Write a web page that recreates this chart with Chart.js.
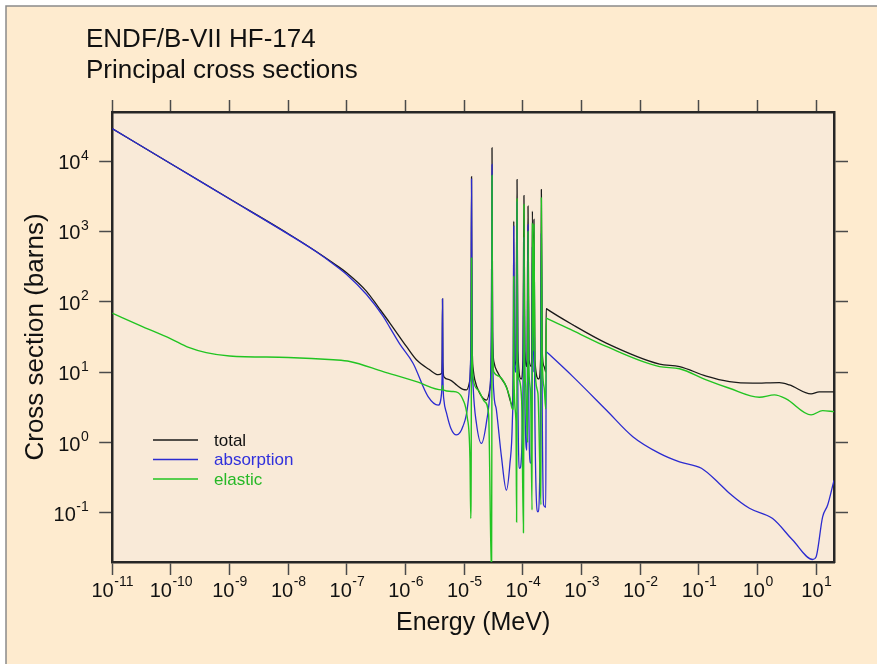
<!DOCTYPE html>
<html>
<head>
<meta charset="utf-8">
<title>ENDF/B-VII HF-174</title>
<script src="https://cdn.jsdelivr.net/npm/chart.js@4.4.1/dist/chart.umd.min.js"></script>
<style>
  html, body { margin:0; padding:0; background:#fff; }
  #plot { display:block; }
</style>
</head>
<body>
<canvas id="plot" width="877" height="664"></canvas>
<script>
// Hf-174 principal cross sections, energy in MeV, cross section in barns
const totalE = [1e-11, 1e-10, 1e-9, 1e-8, 3e-8, 6e-8, 1e-7, 2.16e-7, 3.5e-7, 5.4e-7, 1.04e-6, 1.53e-6, 2.5e-6, 3.6e-6,
  4.1e-6, 4.2e-6, 4.26e-6, 4.32e-6, 4.5e-6, 5.66e-6, 7.5e-6, 9.5e-6, 1.1e-5, 1.24e-5, 1.3e-5, 1.33e-5, 1.36e-5, 1.42e-5,
  1.51e-5, 1.84e-5, 2.39e-5, 2.75e-5, 2.9e-5, 2.97e-5, 3.04e-5, 3.2e-5, 3.76e-5, 5.22e-5, 6.6e-5, 6.85e-5, 6.97e-5,
  7.1e-5, 7.6e-5, 7.93e-5, 8.2e-5, 9.3e-5, 1.0e-4, 1.04e-4, 1.08e-4, 1.17e-4, 1.22e-4, 1.27e-4, 1.4e-4, 1.45e-4, 1.49e-4,
  1.54e-4, 1.6e-4, 1.85e-4, 2.0e-4, 2.06e-4, 2.13e-4, 2.3e-4, 2.45e-4, 2.49e-4, 2.5e-4, 7.1e-4, 2.63e-3, 2.13e-2, 4.66e-2,
  0.133, 0.33, 0.824, 2.34, 3.47, 8.13, 11.2, 20];
const totalXS = [29000, 9200, 2920, 930, 520, 350, 257, 141, 82, 50, 23, 15, 11, 9.2,
  9.6, 16, 110, 14, 8.6, 7.8, 6.5, 5.7, 5.6, 7.5, 25, 6000, 30, 11,
  7.8, 5.0, 4.0, 6, 30, 15500, 40, 14, 9.7, 6.2, 3.4, 8, 1400,
  12, 15, 5480, 20, 8, 15, 3240, 20, 12, 2290, 15, 12, 1940, 40,
  1480, 15, 8, 15, 3950, 20, 12, 10, 80.2, 80, 47, 25.9, 13.0, 12.0,
  8.8, 7.35, 6.97, 7.11, 6.59, 4.91, 5.25, 5.25];

const absE = [1e-11, 1e-10, 1e-9, 1e-8, 3e-8, 6e-8, 1e-7, 2.16e-7, 4.15e-7, 5.4e-7, 7.98e-7, 1.34e-6, 2.42e-6, 3.6e-6,
  4.1e-6, 4.2e-6, 4.26e-6, 4.32e-6, 4.5e-6, 5.0e-6, 5.9e-6, 7.37e-6, 9.5e-6, 1.15e-5, 1.27e-5, 1.31e-5, 1.33e-5, 1.35e-5,
  1.42e-5, 1.61e-5, 1.96e-5, 2.4e-5, 2.75e-5, 2.9e-5, 2.97e-5, 3.04e-5, 3.2e-5, 3.53e-5, 4.3e-5, 5.22e-5, 6.0e-5, 6.6e-5,
  6.85e-5, 6.97e-5, 7.1e-5, 7.6e-5, 7.93e-5, 8.2e-5, 8.81e-5, 1.0e-4, 1.04e-4, 1.08e-4, 1.17e-4, 1.22e-4, 1.26e-4,
  1.34e-4, 1.42e-4, 1.45e-4, 1.49e-4, 1.54e-4, 1.6e-4, 1.8e-4, 1.98e-4, 2.06e-4, 2.13e-4, 2.25e-4, 2.45e-4, 2.49e-4, 2.5e-4,
  7.1e-4, 2.63e-3, 7.46e-3, 2.13e-2, 4.66e-2, 0.11, 0.223, 0.33, 0.724, 1.8, 3.95, 8.65, 9.89, 12.8, 15.6, 20];
const absXS = [29000, 9170, 2900, 917, 515, 340, 243, 127, 62, 43, 25, 13.4, 4.5, 3.4,
  5, 12, 110, 10, 4, 2.6, 1.6, 1.28, 1.7, 3.5, 12, 60, 5600, 50,
  6, 1.88, 0.97, 2, 6, 40, 8970, 30, 5, 2.9, 0.63, 0.21, 0.5, 2,
  15, 1190, 15, 10, 2640, 5, 0.43, 5, 820, 4, 0.78, 1250, 3,
  0.51, 5, 610, 10, 230, 2, 0.103, 2, 940, 3, 0.13, 0.12, 19.66, 19.6,
  8.65, 2.9, 1.21, 0.70, 0.53, 0.43, 0.26, 0.19, 0.116, 0.083, 0.041, 0.0217, 0.0236, 0.0877, 0.129, 0.29];

const elE = [1e-11, 3e-11, 1e-10, 2e-10, 4e-10, 1e-9, 1e-8, 5.85e-8, 1.12e-7, 4.15e-7,
  1.53e-6, 4.2e-6, 4.26e-6, 4.32e-6, 6.44e-6, 9.55e-6, 1.12e-5, 1.25e-5, 1.29e-5, 1.315e-5, 1.33e-5, 1.35e-5, 1.42e-5,
  1.72e-5, 2.23e-5, 2.6e-5, 2.92e-5, 2.95e-5, 2.97e-5, 3.02e-5, 3.2e-5, 4.02e-5, 5.94e-5, 6.6e-5, 6.9e-5, 6.97e-5, 7.05e-5,
  7.6e-5, 7.8e-5, 7.88e-5, 7.93e-5, 8.0e-5, 8.5e-5, 9.5e-5, 1.02e-4, 1.035e-4, 1.04e-4, 1.06e-4, 1.12e-4, 1.2e-4, 1.22e-4,
  1.25e-4, 1.35e-4, 1.43e-4, 1.45e-4, 1.49e-4, 1.54e-4, 1.6e-4, 1.8e-4, 2.03e-4, 2.06e-4, 2.12e-4, 2.3e-4, 2.45e-4, 2.49e-4,
  2.5e-4, 7.1e-4, 2.63e-3, 2.13e-2, 4.66e-2, 0.133, 0.33, 1.07, 1.93, 3.05, 8.13, 12.8, 20];
const elXS = [69, 46, 29.8, 22.5, 19.0, 17.0, 16.2, 15.0, 14.2, 10.2,
  7.35, 5.6, 6.5, 5.6, 5.3, 4.03, 2.33, 0.6, 0.083, 1, 420, 30, 8,
  5.6, 3.8, 2.5, 0.012, 1, 6250, 30, 10, 8.65, 4.49, 3.0, 3, 230, 8,
  2, 0.074, 2, 2910, 30, 8, 4, 0.052, 2, 2420, 25, 6, 1, 1000,
  15, 5, 0.11, 1330, 20, 1250, 12, 5, 0.13, 3010, 20, 6, 3, 58.8,
  58.7, 39, 23.2, 12.0, 11.2, 7.76, 5.9, 4.4, 4.75, 4.17, 2.47, 2.84, 2.75];

// decade exponents shown on the axes
const xDecades = [-11, -10, -9, -8, -7, -6, -5, -4, -3, -2, -1, 0, 1];
const yDecades = [-1, 0, 1, 2, 3, 4];
const titleLines = ['ENDF/B-VII HF-174', 'Principal cross sections'];

const FONT = '"Liberation Sans", Arial, Helvetica, sans-serif';
const X_MIN = 1e-11, X_MAX = 20, Y_MIN = 0.02, Y_MAX = 5e4;

function pairs(e, s){ return e.map((v, i) => ({ x: v, y: s[i] })); }
function decadeTicks(exps){ return scale => { scale.ticks = exps.map(p => ({ value: Math.pow(10, p) })); }; }

const frame = { display: true, color: '#262626', width: 2.5 };
function tickGrid(len){
  return { display: true, drawOnChartArea: false, drawTicks: true, tickLength: len,
           color: '#4a4a4a', tickColor: '#4a4a4a', tickWidth: 1.5 };
}

// page background, gray outline and plot panel
const backdrop = {
  id: 'backdrop',
  beforeDraw(chart){
    const { ctx, chartArea: a } = chart;
    ctx.save();
    ctx.fillStyle = '#ffffff';
    ctx.fillRect(0, 0, chart.width, chart.height);
    ctx.fillStyle = '#feebcf';
    ctx.fillRect(6, 6, chart.width, chart.height);
    ctx.strokeStyle = '#8a8a8a';
    ctx.lineWidth = 1.5;
    ctx.beginPath();
    ctx.moveTo(6, chart.height); ctx.lineTo(6, 6); ctx.lineTo(chart.width, 6);
    ctx.stroke();
    ctx.fillStyle = '#f9ead8';
    ctx.fillRect(a.left, a.top, a.right - a.left, a.bottom - a.top);
    ctx.restore();
  }
};

// 10^n tick labels, title block and legend
const annotations = {
  id: 'annotations',
  afterDraw(chart){
    const { ctx, chartArea: a } = chart;
    const sx = chart.scales.x, sy = chart.scales.y;
    ctx.save();
    ctx.fillStyle = '#111';
    ctx.textAlign = 'left';
    ctx.textBaseline = 'alphabetic';

    xDecades.forEach(p => {
      const px = sx.getPixelForValue(Math.pow(10, p));
      ctx.font = '20px ' + FONT; const wb = ctx.measureText('10').width;
      ctx.font = '14px ' + FONT; const we = ctx.measureText(String(p)).width;
      const x0 = px - (wb + we) / 2;
      ctx.font = '20px ' + FONT; ctx.fillText('10', x0, a.bottom + 34.5);
      ctx.font = '14px ' + FONT; ctx.fillText(String(p), x0 + wb + 0.5, a.bottom + 24);
    });

    yDecades.forEach(p => {
      const py = sy.getPixelForValue(Math.pow(10, p));
      ctx.font = '20px ' + FONT; const wb = ctx.measureText('10').width;
      ctx.font = '14px ' + FONT; const we = ctx.measureText(String(p)).width;
      const x0 = a.left - 24 - (wb + we);
      ctx.font = '20px ' + FONT; ctx.fillText('10', x0, py + 8);
      ctx.font = '14px ' + FONT; ctx.fillText(String(p), x0 + wb + 0.5, py - 1.5);
    });

    ctx.font = '26px ' + FONT;
    ctx.fillText(titleLines[0], 86, 46.5);
    ctx.fillText(titleLines[1], 86, 77.5);

    // legend in the lower left of the panel
    ctx.font = '17px ' + FONT;
    ctx.textBaseline = 'middle';
    chart.data.datasets.forEach((ds, i) => {
      const y = 440 + i * 19.5;
      ctx.strokeStyle = ds.borderColor;
      ctx.lineWidth = 1.4;
      ctx.beginPath(); ctx.moveTo(153, y); ctx.lineTo(198, y); ctx.stroke();
      ctx.fillStyle = ds.legendText;
      ctx.fillText(ds.label, 214, y + 1);
    });
    ctx.restore();
  }
};

new Chart(document.getElementById('plot'), {
  type: 'line',
  data: {
    datasets: [
      { label: 'total', data: pairs(totalE, totalXS), borderColor: '#1a1a1a', legendText: '#111111', borderWidth: 1.3, order: 3 },
      { label: 'absorption', data: pairs(absE, absXS), borderColor: '#2b2bd0', legendText: '#3030dc', borderWidth: 1.3, order: 2 },
      { label: 'elastic', data: pairs(elE, elXS), borderColor: '#22c422', legendText: '#26b826', borderWidth: 1.4, order: 1 }
    ]
  },
  options: {
    responsive: false,
    animation: false,
    devicePixelRatio: 1,
    layout: { padding: { left: 0, right: 29, top: 100, bottom: 0 } },
    elements: { point: { radius: 0 }, line: { cubicInterpolationMode: 'monotone' } },
    plugins: { legend: { display: false }, tooltip: { enabled: false } },
    scales: {
      x: {
        type: 'logarithmic', position: 'bottom', min: X_MIN, max: X_MAX,
        afterBuildTicks: decadeTicks(xDecades), grid: tickGrid(13), border: frame, ticks: { display: false },
        title: { display: true, text: 'Energy (MeV)', color: '#111', font: { family: FONT, size: 25 }, padding: { top: 33, bottom: 26 } }
      },
      y: {
        type: 'logarithmic', position: 'left', min: Y_MIN, max: Y_MAX,
        afterBuildTicks: decadeTicks(yDecades), grid: tickGrid(13), border: frame, ticks: { display: false },
        title: { display: true, text: 'Cross section (barns)', color: '#111', font: { family: FONT, size: 26 }, padding: { top: 20, bottom: 48 } }
      },
      x2: {
        type: 'logarithmic', axis: 'x', position: 'top', min: X_MIN, max: X_MAX,
        afterBuildTicks: decadeTicks(xDecades), grid: tickGrid(12), border: frame, ticks: { display: false }
      },
      y2: {
        type: 'logarithmic', axis: 'y', position: 'right', min: Y_MIN, max: Y_MAX,
        afterBuildTicks: decadeTicks(yDecades), grid: tickGrid(14), border: frame, ticks: { display: false }
      }
    }
  },
  plugins: [backdrop, annotations]
});
</script>
</body>
</html>
